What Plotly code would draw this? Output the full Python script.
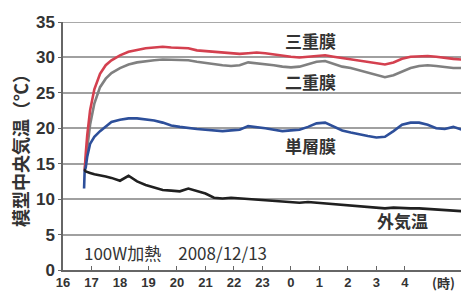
import plotly.graph_objects as go

# time in hours (24 = midnight, 25 = 1 am ...)
time_h = [16.74, 16.76, 16.8, 16.85, 16.95, 17.1, 17.3, 17.5, 17.7, 18.0, 18.3, 18.6, 18.9, 19.2, 19.5,
          19.8, 20.1, 20.4, 20.7, 21.0, 21.3, 21.6, 21.9, 22.2, 22.5, 22.8, 23.1, 23.4, 23.7, 24.0,
          24.3, 24.6, 24.9, 25.2, 25.5, 25.8, 26.1, 26.4, 26.7, 27.0, 27.3, 27.6, 27.9, 28.2, 28.5,
          28.8, 29.1, 29.4, 29.7, 30.0, 30.1]

triple_film = [14.0, 14.0, 16.5, 19.0, 22.5, 25.5, 27.7, 28.9, 29.6, 30.3, 30.8, 31.1, 31.3, 31.4, 31.5,
               31.4, 31.4, 31.3, 31.0, 30.9, 30.8, 30.7, 30.6, 30.5, 30.6, 30.7, 30.6, 30.4, 30.2, 30.1,
               30.0, 30.1, 30.2, 30.3, 30.1, 29.9, 29.7, 29.6, 29.4, 29.2, 29.0, 29.3, 29.8, 30.1, 30.2,
               30.2, 30.1, 29.9, 29.8, 29.7, 29.7]

double_film = [14.0, 14.0, 15.5, 17.5, 20.5, 23.5, 25.8, 27.0, 27.8, 28.5, 29.0, 29.3, 29.5, 29.6, 29.7,
               29.7, 29.7, 29.6, 29.4, 29.2, 29.1, 28.9, 28.8, 28.9, 29.3, 29.2, 29.0, 28.9, 28.7, 28.6,
               28.7, 29.0, 29.4, 29.5, 29.1, 28.7, 28.5, 28.2, 27.9, 27.5, 27.2, 27.5, 28.0, 28.5, 28.8,
               28.9, 28.8, 28.6, 28.5, 28.5, 28.5]

single_film = [11.5, 14.0, 14.5, 16.0, 17.8, 18.8, 19.6, 20.3, 20.9, 21.2, 21.4, 21.4, 21.3, 21.1, 20.8,
               20.4, 20.2, 20.0, 19.9, 19.8, 19.7, 19.6, 19.7, 19.8, 20.3, 20.2, 20.0, 19.8, 19.6, 19.7,
               19.8, 20.2, 20.7, 20.8, 20.2, 19.7, 19.4, 19.1, 18.9, 18.7, 18.8, 19.6, 20.5, 20.8, 20.8,
               20.5, 20.0, 19.9, 20.2, 19.8, 19.8]

outside_air = [14.1, 14.1, 13.9, 13.8, 13.7, 13.5, 13.4, 13.2, 13.0, 12.6, 13.3, 12.5, 12.0, 11.7, 11.3,
               11.2, 11.1, 11.5, 11.1, 10.8, 10.2, 10.1, 10.2, 10.1, 10.0, 10.0, 9.9, 9.8, 9.7, 9.6,
               9.5, 9.6, 9.5, 9.4, 9.3, 9.3, 9.2, 9.1, 9.0, 8.8, 8.7, 8.8, 8.7, 8.7, 8.7,
               8.6, 8.5, 8.4, 8.4, 8.3, 8.3]

x_tick_vals = [16, 17, 18, 19, 20, 21, 22, 23, 24, 25, 26, 27, 28]
x_tick_text = ["16", "17", "18", "19", "20", "21", "22", "23", "0", "1", "2", "3", "4"]
y_tick_vals = [0, 5, 10, 15, 20, 25, 30, 35]

series = [
    ("二重膜", double_film, "#808080"),
    ("三重膜", triple_film, "#d4404f"),
    ("単層膜", single_film, "#2d4f9a"),
    ("外気温", outside_air, "#202020"),
]

fig = go.Figure()
for name, vals, color in series:
    fig.add_trace(go.Scatter(x=time_h, y=vals, mode="lines", name=name,
                             line=dict(color=color, width=2.6)))

jp = "Noto Sans CJK JP"
numfont = "Liberation Sans, Arial, DejaVu Sans"

fig.update_layout(
    width=461, height=294,
    margin=dict(l=63, r=0, t=22, b=24),
    paper_bgcolor="white", plot_bgcolor="white",
    showlegend=False,
    xaxis=dict(range=[16, 29.97], tickvals=x_tick_vals, ticktext=x_tick_text,
               ticks="inside", ticklen=4, tickcolor="#666", showgrid=False, zeroline=False,
               showline=True, linecolor="#666", linewidth=1.5, ticklabelstandoff=0,
               tickfont=dict(size=13, family=numfont, color="#333", weight="bold")),
    yaxis=dict(range=[0, 35], tickvals=y_tick_vals, ticks="outside", ticklen=3, tickcolor="#666",
               showgrid=True, gridcolor="#a0a0a0", gridwidth=1.5, zeroline=False,
               showline=True, linecolor="#666", linewidth=1.5,
               tickfont=dict(size=17, family=numfont, color="#333", weight="bold"),
               title=dict(text="模型中央気温（℃）", standoff=3,
                          font=dict(family=jp, size=18, color="#333", weight="bold"))),
)

# top border of the plotting area (35 line)
fig.add_shape(type="line", xref="paper", yref="y", x0=0, x1=1, y0=35, y1=35,
              line=dict(color="#8c8c8c", width=1.5))

labels = [
    ("三重膜", 24.67, 32.4),
    ("二重膜", 24.67, 26.6),
    ("単層膜", 24.67, 17.6),
    ("外気温", 27.93, 7.05),
]
for text, x, y in labels:
    fig.add_annotation(x=x, y=y, text=text, showarrow=False,
                       font=dict(family=jp, size=17, color="#333", weight="bold"))

fig.add_annotation(x=16.67, y=2.4, xanchor="left", yanchor="middle", text="100W加熱　2008/12/13",
                   showarrow=False, font=dict(family=jp, size=17, color="#333"))
fig.add_annotation(xref="paper", yref="paper", x=0.955, y=0, xanchor="center", yanchor="middle",
                   yshift=-12, text="(時)", showarrow=False,
                   font=dict(family=jp, size=13, color="#333", weight="bold"))

fig.write_html("out.html", config={"displayModeBar": False},
               post_script="document.body.style.margin='0';document.body.style.overflow='hidden';")
